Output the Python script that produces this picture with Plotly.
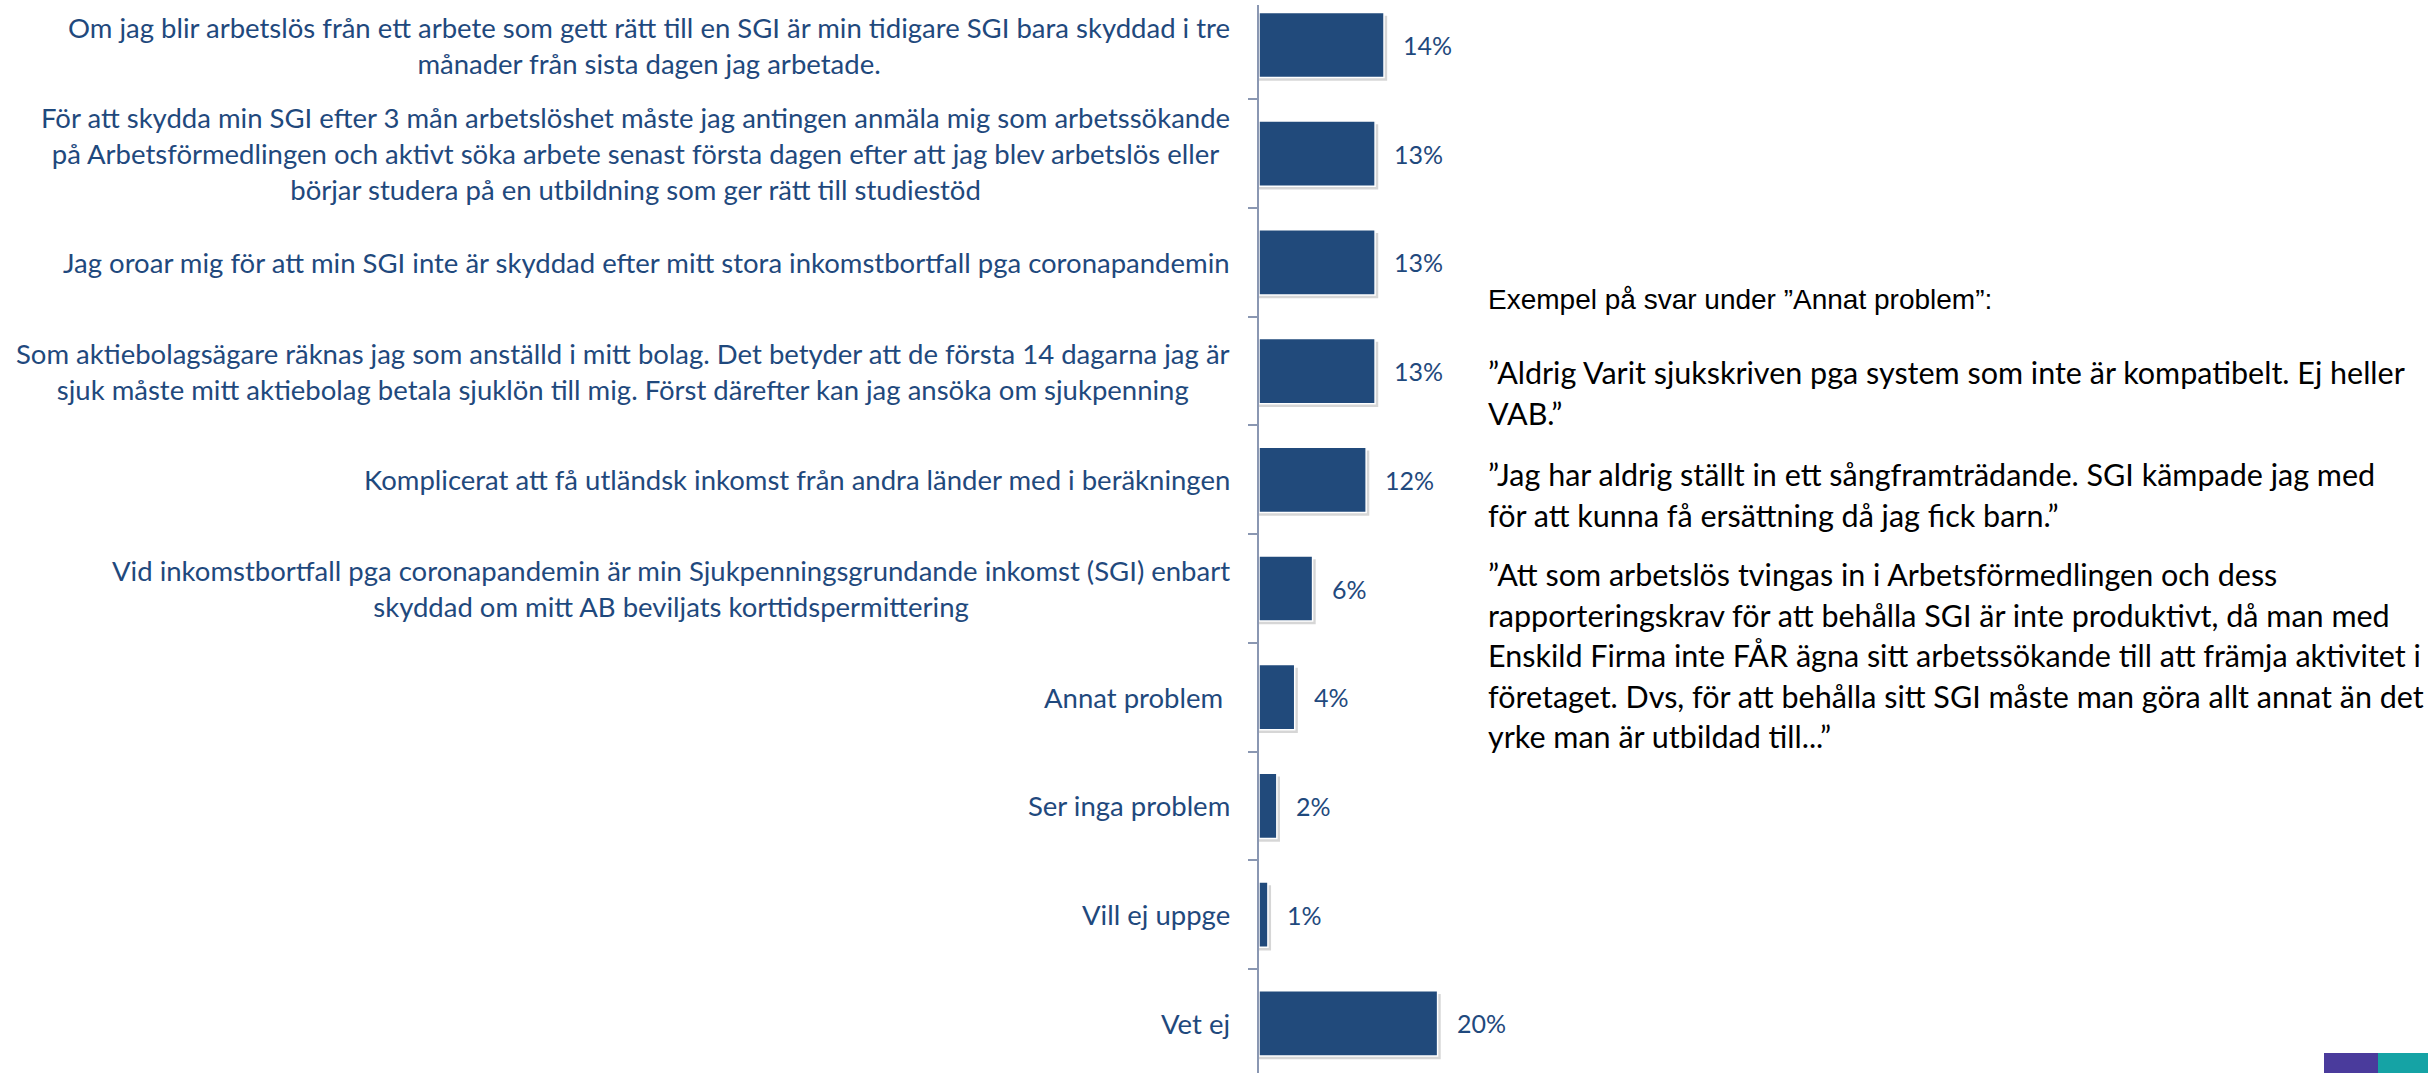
import plotly.graph_objects as go

categories = [
    "Om jag blir arbetslös från ett arbete som gett rätt till en SGI är min tidigare SGI bara skyddad i tre<br>månader från sista dagen jag arbetade.",
    "För att skydda min SGI efter 3 mån arbetslöshet måste jag antingen anmäla mig som arbetssökande<br>på Arbetsförmedlingen och aktivt söka arbete senast första dagen efter att jag blev arbetslös eller<br>börjar studera på en utbildning som ger rätt till studiestöd",
    "Jag oroar mig för att min SGI inte är skyddad efter mitt stora inkomstbortfall pga coronapandemin",
    "Som aktiebolagsägare räknas jag som anställd i mitt bolag. Det betyder att de första 14 dagarna jag är<br>sjuk måste mitt aktiebolag betala sjuklön till mig. Först därefter kan jag ansöka om sjukpenning",
    "Komplicerat att få utländsk inkomst från andra länder med i beräkningen",
    "Vid inkomstbortfall pga coronapandemin är min Sjukpenningsgrundande inkomst (SGI) enbart<br>skyddad om mitt AB beviljats korttidspermittering",
    "Annat problem ",
    "Ser inga problem",
    "Vill ej uppge",
    "Vet ej",
]
values = [14, 13, 13, 13, 12, 6, 4, 2, 1, 20]
value_labels = ["14%", "13%", "13%", "13%", "12%", "6%", "4%", "2%", "1%", "20%"]

note_title = "Exempel på svar under ”Annat problem”:"
note_paragraphs = [
    ["”Aldrig Varit sjukskriven pga system som inte är kompatibelt. Ej heller",
     "VAB.”"],
    ["”Jag har aldrig ställt in ett sångframträdande. SGI kämpade jag med",
     "för att kunna få ersättning då jag fick barn.”"],
    ["”Att som arbetslös tvingas in i Arbetsförmedlingen och dess",
     "rapporteringskrav för att behålla SGI är inte produktivt, då man med",
     "Enskild Firma inte FÅR ägna sitt arbetssökande till att främja aktivitet i",
     "företaget. Dvs, för att behålla sitt SGI måste man göra allt annat än det",
     "yrke man är utbildad till...”"],
]

W, H = 2428, 1073
L, T = 1259, 5
PW, PH = W - L, H - T
PX_PER_PCT = 8.93
BLUE = "#1F497D"
BAR = "#214A7B"
AXIS = "#8A97B2"
LABEL_FONT = "Lato"

def xp(px):
    return (px - L) / PW

def yp(py):
    return 1 - (py - T) / PH

fig = go.Figure()
# soft drop shadow
fig.add_trace(go.Bar(
    y=categories, x=[v + 0.35 for v in values], orientation="h",
    width=0.6, offset=-0.27,
    marker=dict(color="rgba(0,0,0,0.16)", line=dict(width=0)),
    hoverinfo="skip", showlegend=False,
))
fig.add_trace(go.Bar(
    y=categories, x=values, orientation="h",
    width=0.6, offset=-0.3,
    marker=dict(color=BAR, line=dict(color="white", width=1.5)),
    showlegend=False,
))

annotations = []
for c, v, t in zip(categories, values, value_labels):
    annotations.append(dict(
        x=v, y=c, xref="x", yref="y", text=t, showarrow=False,
        xanchor="left", yanchor="middle", xshift=17,
        font=dict(family=LABEL_FONT, size=25, color=BLUE),
    ))
    annotations.append(dict(
        x=0, y=c, xref="x", yref="y", text=c, showarrow=False,
        xanchor="right", yanchor="middle", xshift=-27, align="center",
        font=dict(family=LABEL_FONT, size=27.5, color=BLUE),
    ))

annotations.append(dict(
    x=xp(1486), y=yp(299), xref="paper", yref="paper", text=note_title,
    showarrow=False, xanchor="left", yanchor="middle",
    font=dict(family="Liberation Sans", size=28, color="black"),
))
para_tops = [372, 474, 574]
for top, lines in zip(para_tops, note_paragraphs):
    for i, line in enumerate(lines):
        annotations.append(dict(
            x=xp(1486), y=yp(top + i * 40.5), xref="paper", yref="paper",
            text=line, showarrow=False, xanchor="left", yanchor="middle",
            font=dict(family=LABEL_FONT, size=30.5, color="black"),
        ))

span = 108.7
top_idx = -(45 - T) / span
bot_idx = (H - 45) / span

fig.update_layout(
    width=W, height=H,
    margin=dict(l=L, r=0, t=T, b=0),
    paper_bgcolor="white", plot_bgcolor="white",
    barmode="overlay",
    annotations=annotations,
    xaxis=dict(range=[0, PW / PX_PER_PCT], visible=False, fixedrange=True),
    yaxis=dict(
        type="category", categoryorder="array", categoryarray=categories,
        range=[bot_idx, top_idx],
        showticklabels=False, showgrid=False, zeroline=False,
        showline=True, linecolor=AXIS, linewidth=2,
        ticks="outside", tickson="boundaries", ticklen=9,
        tickcolor=AXIS, tickwidth=2, fixedrange=True,
    ),
    shapes=[
        dict(type="rect", xref="paper", yref="paper",
             x0=xp(2324), x1=xp(2378), y0=yp(1073), y1=yp(1053),
             fillcolor="#4A3B9C", line=dict(width=0)),
        dict(type="rect", xref="paper", yref="paper",
             x0=xp(2378), x1=xp(2428), y0=yp(1073), y1=yp(1053),
             fillcolor="#15A3A5", line=dict(width=0)),
    ],
)

fig.write_html(
    "out.html",
    config={"displayModeBar": False},
    post_script="document.body.style.margin='0';document.body.style.overflow='hidden';",
)
